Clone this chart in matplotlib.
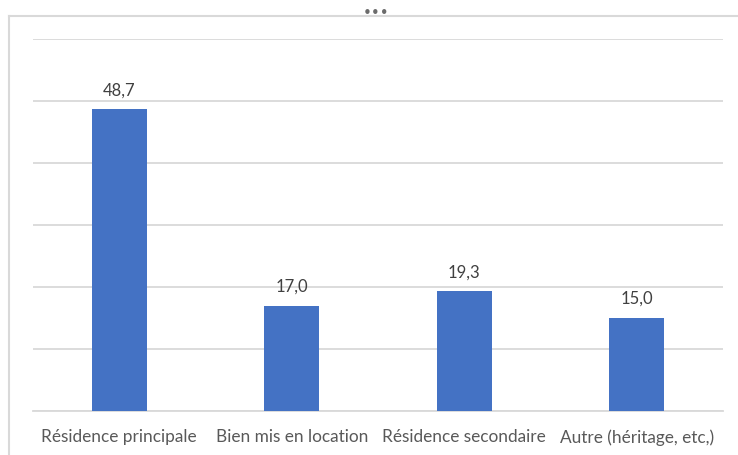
import numpy as np
import matplotlib.pyplot as plt
from matplotlib.lines import Line2D

categories = ["Résidence principale", "Bien mis en location", "Résidence secondaire", "Autre (héritage, etc,)"]
values = [48.7, 17.0, 19.3, 15.0]
labels = ["48,7", "17,0", "19,3", "15,0"]

W, H = 738, 455
fig = plt.figure(figsize=(W / 100, H / 100), dpi=100)
plt.rcParams['font.family'] = ['Lato', 'DejaVu Sans']

# axes box in pixel coords: x 33..723, y 39..411
ax = fig.add_axes([33 / W, 1 - 411 / H, (723 - 33) / W, (411 - 39.3) / H])

x = np.arange(len(categories))
ax.bar(x, values, width=0.32, color='#4472C4', zorder=3)
ax.set_xlim(-0.5, 3.5)
ax.set_ylim(0, 60)
ax.set_yticks(np.arange(0, 61, 10))
ax.yaxis.grid(True, color='#D9D9D9', linewidth=1.3, zorder=0)
ax.tick_params(axis='y', length=0, labelleft=False)
ax.tick_params(axis='x', length=0, pad=13, labelsize=12.4, colors='#595959')
ax.set_xticks(x)
ax.set_xticklabels(categories)
for s in ['left', 'right', 'top']:
    ax.spines[s].set_visible(False)
ax.spines['bottom'].set_color('#D9D9D9')
ax.spines['bottom'].set_linewidth(1.3)

for xi, v, lab in zip(x, values, labels):
    ax.annotate(lab, (xi, v), xytext=(0, 8), textcoords='offset points',
                ha='center', va='bottom', fontsize=12, color='#404040')

# chart frame and the little dots on top
fig.add_artist(Line2D([9 / W, 1], [1 - 16 / H, 1 - 16 / H], color='#D9D9D9', linewidth=1.5))
fig.add_artist(Line2D([9 / W, 9 / W], [0, 1 - 16 / H], color='#D9D9D9', linewidth=1.5))
fig.text(376 / W, 1 - 13 / H, '•••', ha='center', va='center', fontsize=11, color='#6b6b6b',
         family='DejaVu Sans')

fig.savefig('out.png', dpi=100)
